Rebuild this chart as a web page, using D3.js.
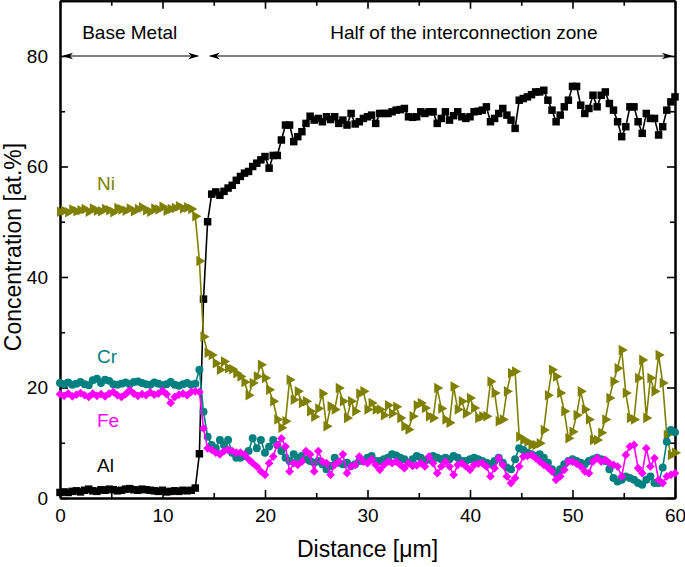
<!DOCTYPE html>
<html><head><meta charset="utf-8">
<script src="https://cdn.jsdelivr.net/npm/d3@7/dist/d3.min.js"></script>
<style>body{margin:0;background:#fff}svg{display:block}text{font-family:"Liberation Sans",Arial,sans-serif}</style>
</head><body><svg id="c" width="685" height="567"></svg>
<script>
// ---- data ----
const step = 0.4; // µm between measurement points
const al = [1.0,1.1,1.0,1.2,1.3,1.1,1.4,1.6,1.3,1.2,1.5,1.4,1.6,1.5,1.3,1.4,1.6,1.7,1.5,1.4,1.6,1.5,1.4,1.3,1.2,1.4,1.1,1.2,1.3,1.2,1.4,1.3,1.4,1.8,
 8,36,50,
 55,55.4,54.8,55.5,56.1,56.6,57.5,58.2,58.8,59.1,60,60.6,61.2,61.8,59.7,62,62,64.8,67.5,67.5,64.5,65.4,66.3,67.8,69.1,
 68.4,68.7,68.1,69,68.5,69,67.8,68.4,67.5,69.6,
 67.7,68.1,68.7,69.0,69.3,67.8,69.6,69.6,69.6,69.9,
 70.2,70.3,70.5,69,68.9,69,69.9,69.6,69.9,69.9,
 67.8,68.7,69.9,68.4,69.2,69.9,69,68.7,69,69.9,
 70.0,70.2,70.8,68.1,68.7,69.6,70.5,69.3,68.4,66.9,
 72,72.3,72.6,73.0,73.5,73.5,73.8,72,70.2,68.1,
 69.3,70.8,72,74.5,74.5,71.1,69.6,70.5,72.9,70.8,
 72.9,73.5,71.4,70.2,68.1,65.4,67.2,70.8,70.8,68.1,
 66,69.6,68.7,68.7,65.7,67.2,70.2,71.7,72.6];
const ni = [51.8,52.0,51.7,52.2,51.9,52.1,52.3,51.8,52.4,52.0,51.9,52.3,52.1,51.7,52.5,52.2,52.0,52.4,51.9,52.3,52.6,52.1,51.8,52.4,52.2,52.7,52.0,52.3,52.5,52.8,52.4,52.6,52.3,
 51,42.9,
 29.2,26.3,25.9,24.4,23.2,24.7,23.5,23.3,22.6,22,
 21,18.6,20.8,22,24.1,21.7,19.6,17.5,14.2,12.7,
 13.9,21.4,17.8,19.3,17.2,17.5,15.7,14.7,16.2,18.9,
 13,16.6,16,19.9,17.5,14.5,17.5,15.7,18.9,19.3,
 16,17.2,16,16,15,16.8,15.3,16.5,14.5,13,
 12.4,14.8,16.8,17.2,16.3,14.8,
 14.5,19.9,16.2,14.2,13.6,20.2,16,17.5,15.3,18.1,
 16.3,14.5,14.8,14.8,21.1,19,13.9,14.2,19.3,22.6,
 22.9,11.1,10.5,10.2,9.6,9.6,9.9,12.3,18.6,23.2,
 22,19,15.7,10.8,12,15,19.3,16,14.2,10.5,
 10.5,11.8,14.2,18.1,21.1,23.5,26.8,19,14.5,14.2,
 21.7,25,14.5,21.7,19.3,25.9,20.8,11.4,7.8,8.2];
const cr = [20.8,20.6,20.9,20.5,20.7,21.0,20.6,20.4,21.3,21.6,20.8,21.4,21.2,20.6,20.5,20.7,20.9,20.6,21.0,21.1,20.8,20.6,20.5,20.9,20.7,20.4,20.6,21.0,20.5,20.3,20.6,20.8,20.5,20.7,
 23.2,15.6,
 11.1,9.6,9.0,10.5,9.6,10.5,8.2,7.3,7.3,7.6,
 8.5,10.8,9.0,10.5,8.2,9.3,10.5,9.6,8.5,7.3,
 6.7,7.9,7.3,7.6,7.0,6.7,6.4,6.7,6.1,5.2,
 5.8,7.3,6.4,6.1,6.4,5.8,6.1,6.7,6.7,7.3,
 7.6,6.7,6.7,7.0,7.3,7.9,7.7,7.3,7.0,6.4,
 7.0,7.6,
 7.3,6.7,7.0,7.6,7.3,7.0,7.3,7.0,7.6,7.3,
 6.7,6.7,7.0,7.3,7.0,6.7,6.4,6.1,6.7,7.3,
 6.4,5.5,5.2,7.0,9.0,8.7,8.2,7.9,7.6,7.9,
 7.3,6.4,5.2,4.5,5.2,6.1,6.7,7.0,6.7,6.4,
 6.1,6.7,7.0,7.3,7.0,6.7,5.2,3.6,3.0,3.3,
 3.9,3.6,3.3,2.7,2.4,3.3,3.9,2.7,2.7,5.5,
 10.2,12.3,11.9];
const fe = [18.8,18.5,18.9,18.4,18.7,19.0,18.6,18.3,18.9,18.5,18.8,18.4,18.9,19.2,18.6,18.3,18.8,19.5,18.9,18.5,18.8,18.6,19.1,18.7,18.9,19.4,18.8,17.2,18.3,18.7,18.9,18.6,19.2,19.3,
 19.2,
 12.6,9.0,8.7,8.2,7.9,8.5,8.7,8.5,8.2,8.2,
 7.9,7.0,6.3,5.7,4.8,4.2,6.3,7.5,9.6,10.8,
 9.3,4.8,6.3,6.0,6.6,8.5,7.9,4.8,8.5,6.6,
 6.3,4.2,6.0,6.6,7.9,4.5,5.7,6.0,7.5,6.6,
 6.3,7.0,6.0,5.1,6.0,6.6,6.3,6.6,6.0,5.4,
 6.3,5.8,5.9,
 6.3,5.7,7.5,6.3,4.5,5.7,6.6,5.7,4.2,6.0,
 6.3,5.7,5.1,6.0,6.2,6.3,5.7,3.9,5.4,7.2,
 6.0,3.9,2.7,3.6,5.7,7.5,7.6,7.8,7.2,6.6,
 6.0,5.5,4.8,3.3,3.9,5.1,6.6,6.6,6.2,5.7,
 4.8,4.5,6.6,7.2,6.6,6.9,6.3,6.0,5.7,3.9,
 7.8,9.3,9.6,5.4,4.5,9.0,5.7,7.2,3.3,2.7,
 3.9,4.2,4.5];
const xTicks = [0,10,20,30,40,50,60];
const xMinor = [5,15,25,35,45,55];
const yTicks = [0,20,40,60,80];
const yMinor = [10,30,50,70,90];
const zones = [{label:"Base Metal", from:0.2, to:13.6, at:80, textAt:6.8},
               {label:"Half of the interconnection zone", from:14.5, to:59.8, at:80, textAt:39.4}];

// ---- chart ----
const svg = d3.select("#c");
const L=60,R=675,T=0.75,B=498;
const x = d3.scaleLinear([0,60],[L,R]);
const y = d3.scaleLinear([0,90],[B,T]);
const font = "19px";

function ax(gen, tr, ticks, size, labels, pad){
  const g = svg.append("g").attr("transform", tr)
    .call(gen.tickValues(ticks).tickSizeInner(-size).tickSizeOuter(0).tickPadding(pad||0)
      .tickFormat(labels? d3.format("d") : ()=>""));
  g.select(".domain").attr("stroke","#000").attr("stroke-width",2);
  g.selectAll(".tick line").attr("stroke","#000").attr("stroke-width",1.6);
  g.selectAll("text").attr("font-size",font).attr("fill","#000").attr("font-family","Liberation Sans, Arial, sans-serif");
  return g;
}
ax(d3.axisBottom(x), `translate(0,${B})`, xTicks, 8, true, 11);
ax(d3.axisBottom(x), `translate(0,${B})`, xMinor, 5, false);
ax(d3.axisTop(x), `translate(0,${T})`, xTicks, 8, false);
ax(d3.axisTop(x), `translate(0,${T})`, xMinor, 5, false);
ax(d3.axisLeft(y), `translate(${L},0)`, yTicks, 8, true, 12);
ax(d3.axisLeft(y), `translate(${L},0)`, yMinor, 5, false);
ax(d3.axisRight(y), `translate(${R},0)`, yTicks, 8, false);
ax(d3.axisRight(y), `translate(${R},0)`, yMinor, 5, false);

// series
const series = [
  {name:"Al", vals:al, color:"#000000", sym:d3.symbolSquare, size:56, rot:0},
  {name:"Ni", vals:ni, color:"#808000", sym:d3.symbolTriangle, size:48, rot:90},
  {name:"Cr", vals:cr, color:"#008080", sym:d3.symbolCircle, size:50, rot:0},
  {name:"Fe", vals:fe, color:"#FF00FF", sym:d3.symbolSquare, size:38, rot:45}
];
const line = d3.line().x((d,i)=>x(i*step)).y(d=>y(d));
series.forEach(s=>{
  const g = svg.append("g");
  g.append("path").attr("d", line(s.vals)).attr("fill","none").attr("stroke",s.color).attr("stroke-width",1.6);
  const sym = d3.symbol(s.sym, s.size);
  g.selectAll("path.m").data(s.vals).join("path").attr("class","m")
    .attr("d", sym)
    .attr("transform",(d,i)=>`translate(${x(i*step)},${y(d)}) rotate(${s.rot})`)
    .attr("fill",s.color);
});

// series labels
const labels = [{t:"Ni",c:"#808000",x:97,y:190},{t:"Cr",c:"#008080",x:97,y:363},
                {t:"Fe",c:"#FF00FF",x:97,y:427},{t:"Al",c:"#000000",x:97,y:472}];
svg.selectAll("text.lab").data(labels).join("text").attr("class","lab")
  .attr("x",d=>d.x).attr("y",d=>d.y).attr("fill",d=>d.c).attr("font-size",font).text(d=>d.t);

// zone arrows
function head(xp, yp, dir){ // dir: -1 pointing left, 1 pointing right
  const l=11,w=3.2,n=8;
  return `M${xp},${yp} L${xp-dir*l},${yp-w} L${xp-dir*n},${yp} L${xp-dir*l},${yp+w} Z`;
}
zones.forEach(z=>{
  const x1=x(z.from), x2=x(z.to), yy=y(z.at);
  svg.append("line").attr("x1",x1+2).attr("x2",x2-2).attr("y1",yy).attr("y2",yy).attr("stroke","#000").attr("stroke-width",1);
  svg.append("path").attr("d",head(x1,yy,-1)).attr("fill","#000");
  svg.append("path").attr("d",head(x2,yy,1)).attr("fill","#000");
  svg.append("text").attr("x",x(z.textAt)).attr("y",39).attr("text-anchor","middle").attr("font-size",font).text(z.label);
});

// axis titles
svg.append("text").attr("x",(L+R)/2).attr("y",557).attr("text-anchor","middle").attr("font-size","23px").text("Distance [μm]");
svg.append("text").attr("transform",`translate(21,247) rotate(-90)`).attr("text-anchor","middle").attr("font-size","23px").text("Concentration [at.%]");
</script></body></html>
